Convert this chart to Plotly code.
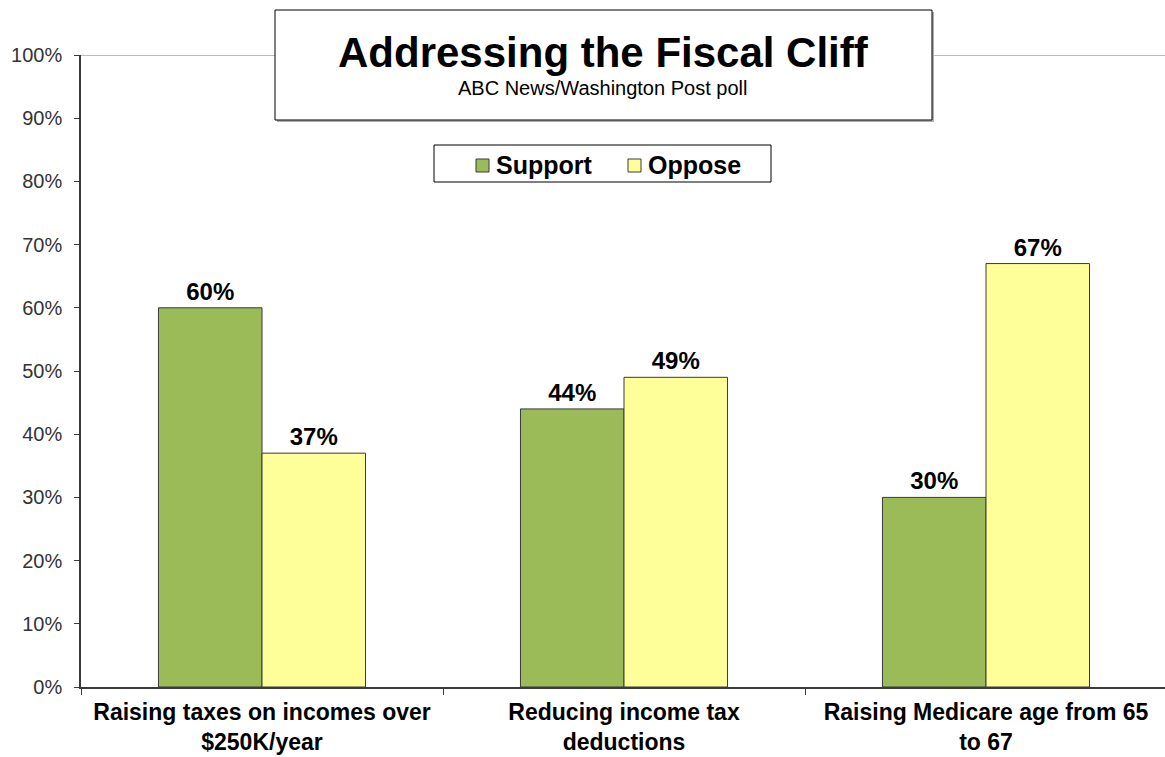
import plotly.graph_objects as go

categories = ["Raising taxes on incomes over<br>$250K/year",
              "Reducing income tax<br>deductions",
              "Raising Medicare age from 65<br>to 67"]
series_names = ["Support", "Oppose"]
support = [0.60, 0.44, 0.30]
oppose = [0.37, 0.49, 0.67]
y_ticks = [i / 10 for i in range(11)]

COLORS = {"Support": "#9BBB59", "Oppose": "#FFFF99"}
EDGE = "#3a3a3a"

W, H = 1165, 757
L, R, T, B = 81, 0, 55, 70
PW, PH = W - L - R, H - T - B
CAT_PX = 362  # pixel width of one category slot

def px(x):
    return (x - L) / PW

def py(y):
    return (H - B - y) / PH

LABEL_FONT = dict(family="Liberation Sans, Arial", size=24, color="black", weight="bold")

fig = go.Figure()
for name, vals in zip(series_names, [support, oppose]):
    fig.add_trace(go.Bar(name=name, x=categories, y=vals,
                         marker=dict(color=COLORS[name], line=dict(color=EDGE, width=1)),
                         texttemplate="%{y:.0%}", textposition="outside",
                         textfont=LABEL_FONT, cliponaxis=False, showlegend=False))

shapes = [
    # plot-area top border at 100%
    dict(type="line", xref="paper", yref="y", x0=0, x1=1, y0=1, y1=1,
         line=dict(color="#a6a6a6", width=1.5), layer="below"),
    # title box with slight shadow
    dict(type="rect", xref="paper", yref="paper", x0=px(277), x1=px(934), y0=py(122), y1=py(12),
         line=dict(width=0), fillcolor="#b0b0b0"),
    dict(type="rect", xref="paper", yref="paper", x0=px(275), x1=px(932), y0=py(120), y1=py(10),
         line=dict(color="black", width=1), fillcolor="white"),
    # legend box
    dict(type="rect", xref="paper", yref="paper", x0=px(434), x1=px(771), y0=py(182), y1=py(145),
         line=dict(color="black", width=1), fillcolor="white"),
]

annotations = [
    dict(text="Addressing the Fiscal Cliff", xref="paper", yref="paper",
         x=px(603), y=py(53), xanchor="center", yanchor="middle", showarrow=False,
         font=dict(family="Liberation Sans, Arial", size=42, color="black", weight="bold")),
    dict(text="ABC News/Washington Post poll", xref="paper", yref="paper",
         x=px(602), y=py(88), xanchor="center", yanchor="middle", showarrow=False,
         font=dict(family="Liberation Sans, Arial", size=20, color="black")),
]

# legend entries (manual, to match the boxed legend)
legend_pos = {"Support": (476, 494), "Oppose": (628, 646)}
for name in series_names:
    sx, tx = legend_pos[name]
    shapes.append(dict(type="rect", xref="paper", yref="paper",
                       x0=px(sx), x1=px(sx + 13), y0=py(172), y1=py(159),
                       line=dict(color=EDGE, width=1), fillcolor=COLORS[name]))
    annotations.append(dict(text=name, xref="paper", yref="paper",
                            x=px(tx), y=py(165), xanchor="left", yanchor="middle",
                            showarrow=False,
                            font=dict(family="Liberation Sans, Arial", size=25, color="black",
                                      weight="bold")))

fig.update_layout(
    width=W, height=H,
    margin=dict(l=L, r=R, t=T, b=B, pad=0, autoexpand=False),
    paper_bgcolor="white", plot_bgcolor="white",
    barmode="group", bargap=0.428, bargroupgap=0,
    shapes=shapes, annotations=annotations,
    font=dict(family="Liberation Sans, Arial", color="black"),
    showlegend=False,
)
fig.update_xaxes(range=[-0.5, -0.5 + PW / CAT_PX], automargin=False,
                 showline=True, linecolor=EDGE, linewidth=1.5, ticks="outside",
                 tickson="boundaries", ticklen=6, tickcolor=EDGE, ticklabelstandoff=4,
                 tickfont=dict(family="Liberation Sans, Arial", size=23, color="black", weight="bold"),
                 showgrid=False)
fig.update_yaxes(range=[0, 1], tickvals=y_ticks, tickformat=".0%", showline=True, automargin=False,
                 linecolor=EDGE, linewidth=1.5, ticks="outside", ticklen=5, tickcolor=EDGE,
                 ticklabelstandoff=8,
                 tickfont=dict(family="Liberation Sans, Arial", size=20, color="#333333"),
                 showgrid=False, zeroline=False)

fig.write_html("out.html")
